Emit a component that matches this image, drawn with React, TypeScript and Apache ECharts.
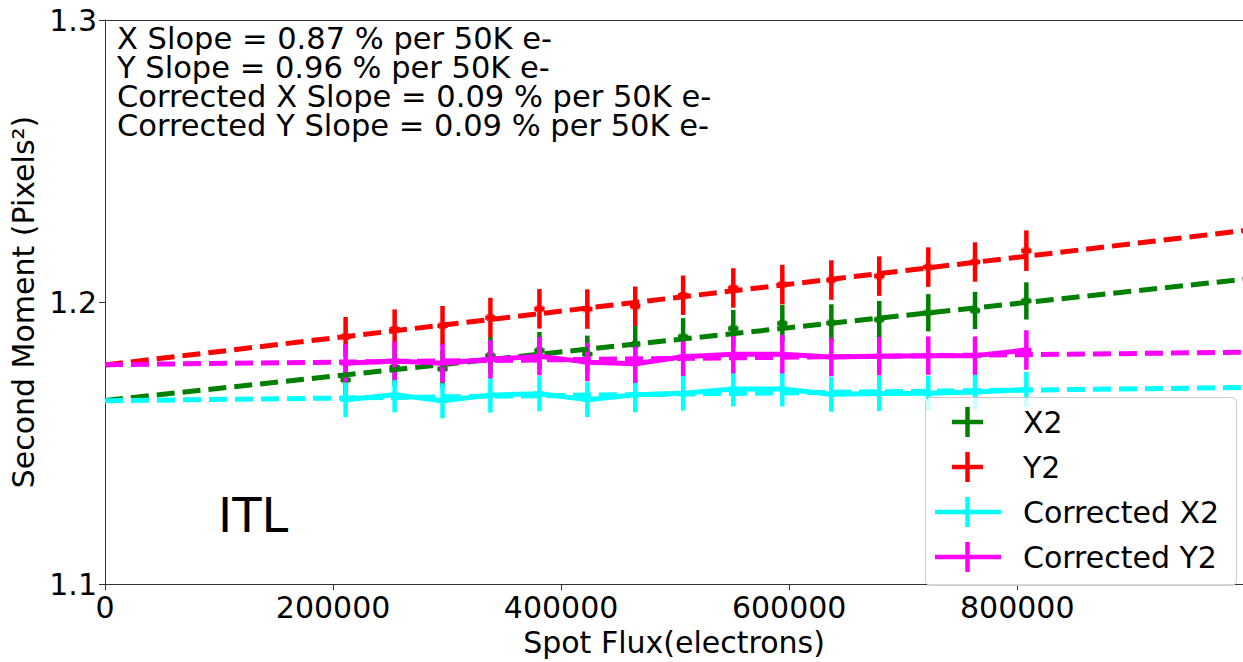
import React, { useEffect, useRef } from "react";
import * as echarts from "echarts";

// Spot flux (electrons) for each measurement
const flux = [211000, 254000, 296000, 338000, 381000, 423000, 465000, 507000, 551000, 594000, 637000, 679000, 722000, 763000, 808000];
const fluxErr = [4500, 4500, 4500, 4500, 4500, 4500, 4500, 4500, 4500, 4500, 4500, 4500, 4500, 4500, 4500];

// Second moments
const x2 = [1.1724, 1.1769, 1.1763, 1.1810, 1.1828, 1.1815, 1.1850, 1.1877, 1.1906, 1.1924, 1.1926, 1.1938, 1.1962, 1.1970, 1.2004];
const y2 = [1.1877, 1.1904, 1.1916, 1.1945, 1.1976, 1.1975, 1.1985, 1.2024, 1.2050, 1.2062, 1.2078, 1.2092, 1.2124, 1.2142, 1.2182];
const corrX2 = [1.1654, 1.1671, 1.1650, 1.1670, 1.1675, 1.1654, 1.1671, 1.1677, 1.1692, 1.1692, 1.1673, 1.1676, 1.1677, 1.1681, 1.1690];
const corrY2 = [1.1783, 1.1791, 1.1783, 1.1797, 1.1808, 1.1787, 1.1781, 1.1806, 1.1815, 1.1815, 1.1805, 1.1808, 1.1810, 1.1810, 1.1830];

// Error bars (half-lengths)
const x2Err = [0.0066, 0.0066, 0.0066, 0.0066, 0.0066, 0.0066, 0.0066, 0.0066, 0.0066, 0.0066, 0.0066, 0.0066, 0.0066, 0.0066, 0.0066];
const y2Err = [0.0070, 0.0070, 0.0070, 0.0070, 0.0070, 0.0070, 0.0070, 0.0070, 0.0070, 0.0070, 0.0070, 0.0070, 0.0070, 0.0070, 0.0072];
const corrX2Err = [0.0062, 0.0062, 0.0062, 0.0062, 0.0062, 0.0062, 0.0062, 0.0062, 0.0062, 0.0062, 0.0062, 0.0062, 0.0062, 0.0062, 0.0062];
const corrY2Err = [0.0068, 0.0068, 0.0068, 0.0068, 0.0068, 0.0068, 0.0068, 0.0068, 0.0068, 0.0068, 0.0068, 0.0068, 0.0068, 0.0068, 0.0070];

// Linear fit lines (endpoints)
const fitFlux = [0, 1000000];
const fitX2 = [1.1651, 1.2081];
const fitY2 = [1.1777, 1.2254];
const fitCorrX2 = [1.1650, 1.1697];
const fitCorrY2 = [1.1778, 1.1822];

const xTickValues = [0, 200000, 400000, 600000, 800000];
const yTicks = ["1.1", "1.2", "1.3"];

const annotations = [
  "X Slope = 0.87 % per 50K e-",
  "Y Slope = 0.96 % per 50K e-",
  "Corrected X Slope = 0.09 % per 50K e-",
  "Corrected Y Slope = 0.09 % per 50K e-",
];

const legendItems = [
  { name: "X2", color: "#008000", wide: false },
  { name: "Y2", color: "#ff0000", wide: false },
  { name: "Corrected X2", color: "#00ffff", wide: true },
  { name: "Corrected Y2", color: "#ff00ff", wide: true },
];

const FONT = "DejaVu Sans";

function pairs(xs: number[], ys: number[]) {
  return xs.map((x, i) => [x, ys[i]]);
}

function errData(ys: number[], errs: number[]) {
  return flux.map((x, i) => [x, ys[i], errs[i], fluxErr[i]]);
}

function errSeries(name: string, ys: number[], errs: number[], color: string, marker: boolean) {
  return {
    name,
    type: "custom",
    xAxisIndex: 0,
    data: errData(ys, errs),
    encode: { x: 0, y: 1 },
    renderItem: (params: any, api: any) => {
      const x = api.value(0);
      const y = api.value(1);
      const e = api.value(2);
      const xe = api.value(3);
      const c = api.coord([x, y]);
      const top = api.coord([x, y + e]);
      const bot = api.coord([x, y - e]);
      const l = api.coord([x - xe, y]);
      const r = api.coord([x + xe, y]);
      const st = { stroke: color, lineWidth: 4.5 };
      const children: any[] = [
        { type: "line", shape: { x1: c[0], y1: top[1], x2: c[0], y2: bot[1] }, style: st },
        { type: "line", shape: { x1: l[0], y1: c[1], x2: r[0], y2: c[1] }, style: st },
      ];
      if (marker) {
        const s = 3.5;
        children.push(
          { type: "line", shape: { x1: c[0] - s, y1: c[1] - s, x2: c[0] + s, y2: c[1] + s }, style: { stroke: color, lineWidth: 1 } },
          { type: "line", shape: { x1: c[0] - s, y1: c[1] + s, x2: c[0] + s, y2: c[1] - s }, style: { stroke: color, lineWidth: 1 } }
        );
      }
      return { type: "group", children };
    },
  };
}

function fitSeries(ys: number[], color: string) {
  return {
    type: "line",
    xAxisIndex: 0,
    data: pairs(fitFlux, ys),
    symbol: "none",
    lineStyle: { color, width: 5, type: [18, 8] },
    silent: true,
  };
}

function lineSeries(ys: number[], color: string) {
  return {
    type: "line",
    xAxisIndex: 0,
    data: pairs(flux, ys),
    symbol: "none",
    lineStyle: { color, width: 5 },
    silent: true,
  };
}

export default function App() {
  const ref = useRef<HTMLDivElement>(null);

  useEffect(() => {
    if (!ref.current) return;
    const chart = echarts.init(ref.current, undefined, { renderer: "svg" });

    const graphics: any[] = [];
    graphics.push({
      type: "text",
      x: 117,
      y: 24,
      style: {
        text: annotations.join("\n"),
        font: `30.5px "${FONT}"`,
        lineHeight: 29,
        fill: "#000",
        verticalAlign: "top",
        align: "left",
      },
      z: 100,
    });
    graphics.push({
      type: "text",
      x: 218,
      y: 515,
      style: { text: "ITL", font: `48px "${FONT}"`, fill: "#000", verticalAlign: "middle", align: "left" },
      z: 100,
    });
    // legend box
    graphics.push({
      type: "rect",
      shape: { x: 925.5, y: 397.5, width: 311, height: 188, r: 5 },
      style: { fill: "rgba(255,255,255,0.8)", stroke: "#cccccc", lineWidth: 1 },
      z: 90,
    });
    legendItems.forEach((it, i) => {
      const cy = 422 + i * 45;
      const hx1 = it.wide ? 935 : 952;
      const hx2 = it.wide ? 1001 : 983;
      graphics.push({
        type: "line",
        shape: { x1: hx1, y1: cy, x2: hx2, y2: cy },
        style: { stroke: it.color, lineWidth: 4.5 },
        z: 95,
      });
      graphics.push({
        type: "line",
        shape: { x1: 967.5, y1: cy - 15, x2: 967.5, y2: cy + 15 },
        style: { stroke: it.color, lineWidth: 4.5 },
        z: 95,
      });
      graphics.push({
        type: "text",
        x: 1023,
        y: cy,
        style: { text: it.name, font: `30px "${FONT}"`, fill: "#000", verticalAlign: "middle", align: "left" },
        z: 95,
      });
    });

    chart.setOption({
      animation: false,
      backgroundColor: "#fff",
      textStyle: { fontFamily: FONT },
      grid: {
        left: 105,
        right: 0,
        top: 20,
        bottom: 75,
        show: false,
      },
      xAxis: [
        {
          type: "value",
          min: 0,
          max: 998000,
          name: "Spot Flux(electrons)",
          nameLocation: "middle",
          nameGap: 40,
          nameTextStyle: { fontSize: 30, color: "#000", fontFamily: FONT },
          axisLine: { show: true, onZero: false, lineStyle: { color: "#333", width: 1 } },
          axisTick: { show: true, inside: false, length: 6, customValues: xTickValues, lineStyle: { color: "#333" } },
          axisLabel: {
            fontSize: 30,
            color: "#000",
            fontFamily: FONT,
            margin: 8,
            customValues: xTickValues,
            formatter: (v: number) => String(v),
          },
          splitLine: { show: false },
        },
        {
          type: "value",
          position: "top",
          min: 0,
          max: 998000,
          axisLine: { show: true, onZero: false, lineStyle: { color: "#333", width: 1 } },
          axisTick: { show: false },
          axisLabel: { show: false },
          splitLine: { show: false },
        },
      ],
      yAxis: {
        type: "value",
        min: 1.1,
        max: 1.3,
        interval: 0.1,
        name: "Second Moment (Pixels²)",
        nameLocation: "middle",
        nameGap: 62,
        nameRotate: 90,
        nameTextStyle: { fontSize: 30, color: "#000", fontFamily: FONT },
        axisLine: { show: true, onZero: false, lineStyle: { color: "#333", width: 1 } },
        axisTick: { show: true, inside: false, length: 6, lineStyle: { color: "#333" } },
        axisLabel: {
          fontSize: 30,
          color: "#000",
          fontFamily: FONT,
          margin: 8,
          formatter: (v: number) => {
            const idx = Math.round((v - 1.1) / 0.1);
            return yTicks[idx] ?? "";
          },
        },
        splitLine: { show: false },
      },
      series: [
        fitSeries(fitX2, "#008000"),
        fitSeries(fitY2, "#ff0000"),
        fitSeries(fitCorrX2, "#00ffff"),
        fitSeries(fitCorrY2, "#ff00ff"),
        errSeries("X2", x2, x2Err, "#008000", true),
        errSeries("Y2", y2, y2Err, "#ff0000", true),
        lineSeries(corrX2, "#00ffff"),
        errSeries("Corrected X2", corrX2, corrX2Err, "#00ffff", false),
        lineSeries(corrY2, "#ff00ff"),
        errSeries("Corrected Y2", corrY2, corrY2Err, "#ff00ff", false),
      ],
      graphic: graphics,
    });

    return () => chart.dispose();
  }, []);

  return <div ref={ref} style={{ position: "absolute", left: 0, top: 0, width: 1243, height: 662 }} />;
}
